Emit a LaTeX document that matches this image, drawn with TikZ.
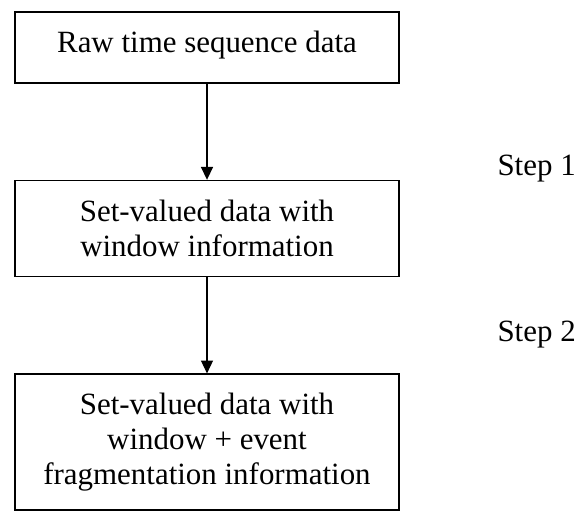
\documentclass[tikz,border=0pt]{standalone}
\usepackage{fontspec}
\setmainfont{Liberation Serif}
\usetikzlibrary{positioning,arrows.meta}

\begin{document}
\begin{tikzpicture}[x=0.375pt,y=-0.375pt]
\tikzset{
    stage/.style={rectangle, draw=black, line width=0.6pt, minimum width=144pt, align=center, font=\fontsize{11.6}{13.2}\selectfont},
    flow/.style={-{Triangle[length=4.8pt,width=4.5pt]}, line width=0.4pt},
    steplabel/.style={anchor=base west, inner sep=0pt, font=\fontsize{11.6}{13.2}\selectfont}
}
\useasboundingbox (0,0) rectangle (576,510);
\node[stage, text height=15pt, text depth=11.6pt, inner ysep=0pt] (raw) at (207,47.5) {Raw time sequence data};
\node[stage, minimum height=36pt, below=36pt of raw] (window) {Set-valued data with\\window information};
\node[stage, minimum height=51pt, below=36pt of window] (event) {Set-valued data with\\window + event\\fragmentation information};

\draw[flow] (raw) -- (window);
\draw[flow] (window) -- (event);

\node[steplabel] (step1) at (497,175) {Step 1};
\node[steplabel] (step2) at (497,341) {Step 2};
\end{tikzpicture}
\end{document}
